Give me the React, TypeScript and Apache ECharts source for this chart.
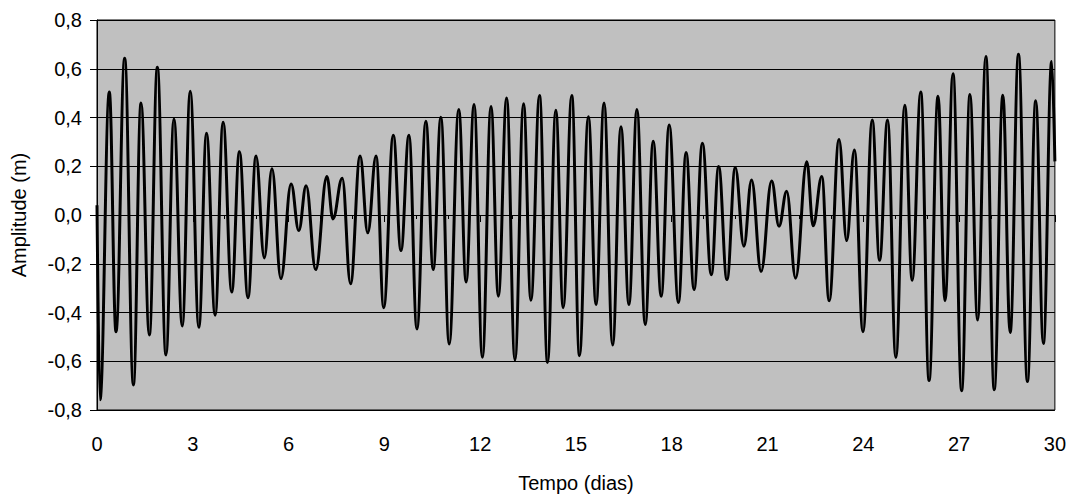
import React, { useEffect, useRef } from "react";
import * as echarts from "echarts";

// Tide extrema (time in days, amplitude in m)
const tideDays: number[] = [
  0, 0.094, 0.386, 0.595, 0.867, 1.14, 1.378, 1.64, 1.89, 2.16,
  2.41, 2.67, 2.92, 3.19, 3.43, 3.70, 3.95, 4.22, 4.46, 4.73,
  4.98, 5.24, 5.48, 5.76, 6.08, 6.32, 6.55, 6.85, 7.20, 7.39,
  7.68, 7.94, 8.24, 8.48, 8.74, 8.98, 9.28, 9.52, 9.77, 10.02,
  10.30, 10.53, 10.77, 11.03, 11.33, 11.56, 11.81, 12.07, 12.34, 12.57,
  12.83, 13.09, 13.36, 13.59, 13.86, 14.11, 14.37, 14.60, 14.87, 15.11,
  15.39, 15.63, 15.88, 16.15, 16.41, 16.66, 16.91, 17.17, 17.42, 17.67,
  17.92, 18.21, 18.45, 18.70, 18.96, 19.24, 19.47, 19.73, 19.99, 20.26,
  20.50, 20.80, 21.13, 21.36, 21.60, 21.88, 22.23, 22.43, 22.70, 22.93,
  23.24, 23.48, 23.72, 23.99, 24.28, 24.51, 24.76, 25.02, 25.30, 25.53,
  25.80, 26.06, 26.34, 26.56, 26.81, 27.08, 27.34, 27.58, 27.84, 28.10,
  28.37, 28.60, 28.86, 29.14, 29.40, 29.64, 29.90, 30,
];

const tideLevels: number[] = [
  0.04, -0.758, 0.505, -0.479, 0.643, -0.697, 0.459, -0.492, 0.606, -0.574,
  0.394, -0.455, 0.508, -0.461, 0.335, -0.411, 0.381, -0.316, 0.26, -0.339,
  0.242, -0.176, 0.19, -0.261, 0.127, -0.064, 0.12, -0.224, 0.158, -0.016,
  0.151, -0.282, 0.242, -0.073, 0.242, -0.38, 0.327, -0.146, 0.327, -0.468,
  0.385, -0.224, 0.401, -0.529, 0.433, -0.275, 0.453, -0.584, 0.445, -0.333,
  0.48, -0.595, 0.456, -0.35, 0.49, -0.605, 0.43, -0.38, 0.49, -0.577,
  0.403, -0.367, 0.46, -0.533, 0.362, -0.367, 0.433, -0.449, 0.303, -0.333,
  0.369, -0.359, 0.256, -0.306, 0.294, -0.245, 0.199, -0.265, 0.195, -0.128,
  0.144, -0.231, 0.14, -0.046, 0.097, -0.259, 0.218, -0.044, 0.158, -0.352,
  0.31, -0.105, 0.267, -0.479, 0.39, -0.186, 0.39, -0.585, 0.45, -0.268,
  0.505, -0.679, 0.487, -0.352, 0.58, -0.721, 0.494, -0.431, 0.65, -0.717,
  0.491, -0.482, 0.66, -0.683, 0.469, -0.527, 0.63, 0.22,
];

const xTitle = "Tempo (dias)";
const yTitle = "Amplitude (m)";
const xMin = 0;
const xMax = 30;
const xStep = 3;
const yMin = -0.8;
const yMax = 0.8;
const yStep = 0.2;

const FONT = "'Liberation Sans', Arial, sans-serif";

export default function App() {
  const ref = useRef<HTMLDivElement>(null);

  useEffect(() => {
    if (!ref.current) return;
    const chart = echarts.init(ref.current, undefined, { renderer: "svg" });
    const data = tideDays.map((d, i) => [d, tideLevels[i]]);
    chart.setOption({
      animation: false,
      backgroundColor: "#ffffff",
      grid: {
        left: 97,
        right: 14,
        top: 20,
        bottom: 86,
        show: true,
        backgroundColor: "#C0C0C0",
        borderColor: "#000000",
        borderWidth: 1,
      },
      xAxis: {
        type: "value",
        min: xMin,
        max: xMax,
        interval: xStep,
        name: xTitle,
        nameLocation: "middle",
        nameGap: 63,
        nameTextStyle: { color: "#000", fontFamily: FONT, fontSize: 20 },
        axisLine: { show: true, lineStyle: { color: "#000", width: 1 } },
        axisTick: { show: true, length: 7, lineStyle: { color: "#000" } },
        minorTick: { show: true, splitNumber: 3, length: 4, lineStyle: { color: "#000" } },
        axisLabel: { color: "#000", fontFamily: FONT, fontSize: 20, margin: 24 },
        splitLine: { show: false },
      },
      yAxis: {
        type: "value",
        min: yMin,
        max: yMax,
        interval: yStep,
        name: yTitle,
        nameLocation: "middle",
        nameGap: 68,
        nameRotate: 90,
        nameTextStyle: { color: "#000", fontFamily: FONT, fontSize: 20 },
        axisLine: { show: true, lineStyle: { color: "#000", width: 1 } },
        axisTick: { show: true, length: 7, lineStyle: { color: "#000" } },
        axisLabel: {
          color: "#000",
          fontFamily: FONT,
          fontSize: 20,
          margin: 15,
          formatter: (v: number) => v.toFixed(1).replace(".", ","),
        },
        splitLine: { show: true, lineStyle: { color: "#000", width: 1 } },
      },
      series: [
        {
          type: "line",
          data,
          showSymbol: false,
          smooth: 0.4,
          smoothMonotone: "x",
          lineStyle: { color: "#000", width: 3 },
          clip: true,
        },
      ],
    });
    return () => chart.dispose();
  }, []);

  return (
    <div
      ref={ref}
      style={{ position: "absolute", left: 0, top: 0, width: 1069, height: 498 }}
    />
  );
}
